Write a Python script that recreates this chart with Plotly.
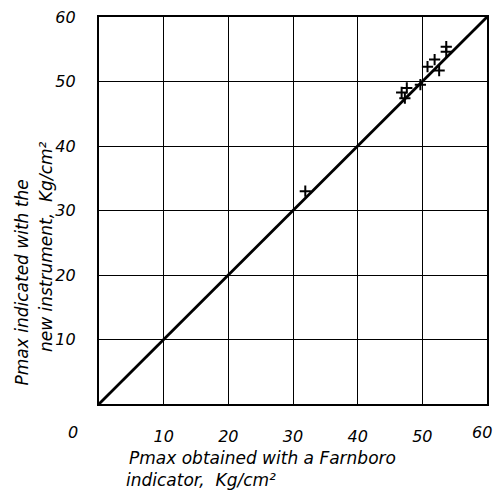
import plotly.graph_objects as go

# Peak pressure readings, kg/cm²
x_farnboro = [31.9, 46.8, 47.3, 47.6, 49.7, 50.8, 51.9, 52.6, 53.7, 53.7]
y_new_instr = [33.0, 48.3, 47.4, 49.0, 49.5, 52.3, 53.4, 51.7, 54.6, 55.4]

# Line of equality
ref_x = [0, 60]
ref_y = [0, 60]

tick_vals = [10, 20, 30, 40, 50, 60]
tick_text = ["10", "20", "30", "40", "50", "60"]

FONT = "DejaVu Sans"
tick_font = dict(family=FONT, size=16, color="black", style="italic")
title_font = dict(family=FONT, size=17, color="black", style="italic")

fig = go.Figure()

fig.add_trace(go.Scatter(
    x=ref_x, y=ref_y, mode="lines",
    line=dict(color="black", width=2.8),
    hoverinfo="skip", showlegend=False,
))

fig.add_trace(go.Scatter(
    x=x_farnboro, y=y_new_instr, mode="markers",
    marker=dict(symbol="cross-thin", size=8, line=dict(color="black", width=2)),
    showlegend=False,
))

axis_common = dict(
    range=[0, 60], tickvals=tick_vals, ticktext=tick_text,
    showgrid=True, gridcolor="black", gridwidth=1.3,
    showline=True, linecolor="black", linewidth=2.2, mirror=True,
    zeroline=False, ticks="",
    tickfont=tick_font,
)

fig.update_xaxes(**axis_common, ticklabelstandoff=17)
fig.update_yaxes(**axis_common, ticklabelstandoff=18)

W, H = 497, 492
L, R, T, B = 99, 8, 15, 88
pw, ph = W - L - R, H - T - B


def px_to_paper(px, py):
    return (px - L) / pw, (H - B - py) / ph


annotations = [
    # origin label
    dict(x=0, y=0, xref="x", yref="y", text="0", showarrow=False,
         xshift=-26, yshift=-28, font=tick_font),
    # last x tick label sits at the page edge, so place it explicitly
    dict(x=tick_vals[-1], y=0, xref="x", yref="y", text=tick_text[-1],
         showarrow=False, xshift=-5, yshift=-28, font=tick_font),
]

# x-axis title, two left-aligned lines
for txt, px, py in [("Pmax obtained with a Farnboro", 127, 458),
                    ("indicator,  Kg/cm²", 124, 480)]:
    ax, ay = px_to_paper(px, py)
    annotations.append(dict(x=ax, y=ay, xref="paper", yref="paper", text=txt,
                            showarrow=False, xanchor="left", yanchor="middle",
                            font=title_font))

# y-axis title, two rotated lines
for txt, px, py in [("Pmax indicated with the", 22, 387),
                    ("new instrument,  Kg/cm²", 45, 354)]:
    ax, ay = px_to_paper(px, py)
    annotations.append(dict(x=ax, y=ay, xref="paper", yref="paper", text=txt,
                            textangle=-90, showarrow=False,
                            xanchor="center", yanchor="bottom",
                            font=title_font))

fig.update_layout(
    width=W, height=H,
    margin=dict(l=L, r=R, t=T, b=B),
    plot_bgcolor="white", paper_bgcolor="white",
    annotations=annotations,
)

fig.write_html("out.html")
